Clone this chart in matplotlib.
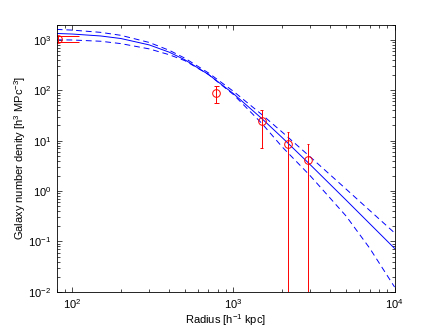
import numpy as np
import matplotlib
matplotlib.use('Agg')
import matplotlib.pyplot as plt

# measured galaxy number density
radius = np.array([82, 785, 1500, 2190, 2900])
density = np.array([1050, 88, 24.3, 8.7, 4.2])
err_lo = np.array([150, 31, 17, 9.5, 4.6])
err_hi = np.array([150, 31, 17, 6.0, 4.4])

# fitted profile and its upper / lower bounds
r_model = np.array([80, 100, 150, 200, 300, 400, 500, 700, 1000, 1500,
                    2000, 3000, 5000, 7000, 10000])
n_fit = np.array([1335, 1300, 1190, 1060, 792, 567, 400, 205, 85.4, 27.4,
                  11.6, 3.32, 0.663, 0.227, 0.0729])
n_upper = np.array([1605, 1555, 1403, 1227, 885, 618, 431, 220, 95, 32.9,
                    14.9, 4.74, 1.095, 0.414, 0.148])
n_lower = np.array([1000, 990, 935, 840, 660, 505, 385, 205, 82, 22,
                    7.6, 2.0, 0.32, 0.074, 0.0125])

plt.rcParams['font.family'] = ['Liberation Sans', 'DejaVu Sans']
plt.rcParams['mathtext.default'] = 'regular'
plt.rcParams['font.size'] = 8

fig = plt.figure(figsize=(4.36, 3.28), dpi=100)
ax = fig.add_axes([0.13, 0.11, 0.775, 0.815])
ax.set_xscale('log')
ax.set_yscale('log')

dash = (0, (6, 4))
ax.plot(r_model, n_fit, color='b', lw=0.7)
ax.plot(r_model, n_upper, color='b', lw=0.7, ls=dash)
ax.plot(r_model, n_lower, color='b', lw=0.7, ls=dash)

ax.errorbar(radius, density, yerr=[err_lo, err_hi], fmt='o', mfc='none',
            mec='r', mew=0.7, ms=5.5, ecolor='r', elinewidth=0.7, capsize=0)

# matlab-style caps, width scaled to the x range
tee = (radius.max() - radius.min()) / 100
ax.hlines(density + err_hi, radius - tee, radius + tee, colors='r', lw=0.7)
low = density - err_lo
ok = low > 0
ax.hlines(low[ok], (radius - tee)[ok], (radius + tee)[ok], colors='r', lw=0.7)

ax.set_xlim(80, 1e4)
ax.set_ylim(1e-2, 2e3)
ax.set_xlabel('Radius [h$^{-1}$ kpc]', labelpad=1)
ax.set_ylabel('Galaxy number denity [h$^3$ MPc$^{-3}$]')
ax.yaxis.set_label_coords(-0.085, 0.5)

ax.tick_params(which='both', direction='in', top=True, right=True, width=0.5)
ax.tick_params(which='major', length=3.5, pad=4)
ax.tick_params(which='minor', length=2)
for s in ax.spines.values():
    s.set_linewidth(0.6)

fig.savefig('out.png', dpi=100)
